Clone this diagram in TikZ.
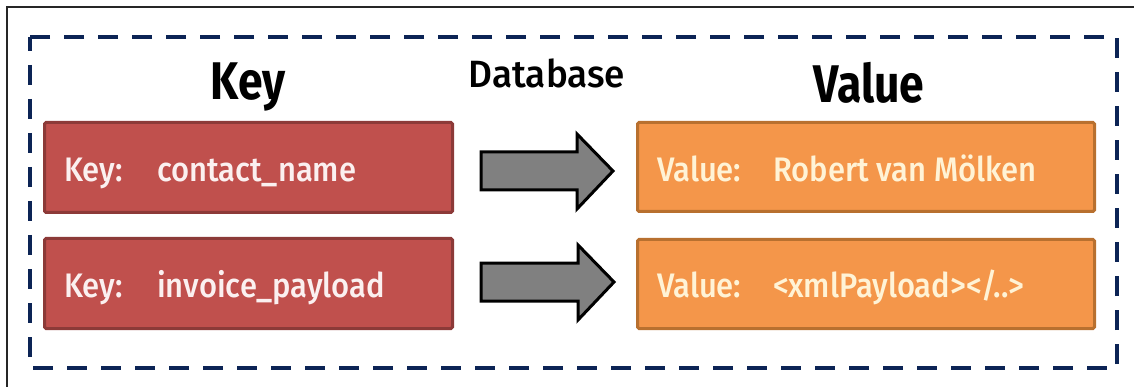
\documentclass[tikz,border=0pt]{standalone}
\usepackage{fontspec}
\setmainfont{Fira Sans}
\newfontfamily\condfont[FakeStretch=0.91, UprightFont=* Medium]{Fira Sans}
\newfontfamily\dbfont[FakeStretch=0.97, UprightFont=* Medium]{Fira Sans}
\newfontfamily\condbold[FakeStretch=0.84]{Fira Sans Bold}
\definecolor{navy}{HTML}{0C2455}
\definecolor{keyfill}{HTML}{C0504D}
\definecolor{keyedge}{HTML}{8C3A38}
\definecolor{valfill}{HTML}{F4964A}
\definecolor{valedge}{HTML}{B8702F}
\definecolor{keytext}{HTML}{FBF0F0}
\definecolor{valtext}{HTML}{FFF3D6}
\definecolor{arrowgray}{HTML}{808080}
\tikzset{
  keybox/.style={draw=keyedge, fill=keyfill, line width=3pt, rounded corners=1.5pt},
  valbox/.style={draw=valedge, fill=valfill, line width=3pt, rounded corners=1.5pt},
  boxtext/.style={anchor=base west, inner sep=0pt, font=\condfont\fontsize{34}{40}\selectfont},
  heading/.style={anchor=base, inner sep=0pt, font=\condbold\fontsize{53}{60}\selectfont},
  blockarrow/.style={draw=black, fill=arrowgray, line width=3pt, line join=miter},
}
\begin{document}
\begin{tikzpicture}[x=1pt,y=-1pt]
\useasboundingbox (0,0) rectangle (1134,387);
% outer frame (partially visible)
\draw[line width=1.5pt, black!85] (7,387) -- (7,7) -- (1134,7);
% dashed database boundary
\draw[navy, line width=4pt, dash pattern=on 20pt off 14pt, dash phase=6pt] (30,37) rectangle (1117,368);
% headings
\node[heading] (hkey) at (248,100) {Key};
\node[heading] (hval) at (869,103) {Value};
\node[anchor=base, inner sep=0pt, font=\dbfont\fontsize{38}{44}\selectfont] (hdb) at (547,88) {Database};
% key boxes
\node[keybox, minimum width=408pt, minimum height=90pt, anchor=north west] (k1) at (43,121) {};
\node[keybox, minimum width=408pt, minimum height=90pt, anchor=north west] (k2) at (43,237) {};
% value boxes
\node[valbox, minimum width=457pt, minimum height=89pt, anchor=north west] (v1) at (636,121) {};
\node[valbox, minimum width=457pt, minimum height=89pt, anchor=north west] (v2) at (636,238) {};
% texts
\node[boxtext, text=keytext] (k1a) at (64,182) {Key:};
\node[boxtext, text=keytext] (k1b) at (157,182) {contact\_name};
\node[boxtext, text=keytext] (k2a) at (64,297) {Key:};
\node[boxtext, text=keytext] (k2b) at (157,297) {invoice\_payload};
\node[boxtext, text=valtext] (v1a) at (657,182) {Value:};
\node[boxtext, text=valtext] (v1b) at (773,182) {Robert van Mölken};
\node[boxtext, text=valtext] (v2a) at (657,297) {Value:};
\node[boxtext, text=valtext] (v2b) at (773,297) {<xmlPayload></..>};
% block arrows
\draw[blockarrow] (481,152) -- (577,152) -- (577,134) -- (613,171) -- (577,209) -- (577,190) -- (481,190) -- cycle;
\draw[blockarrow] (481,263) -- (578,263) -- (578,245) -- (614,282) -- (578,320) -- (578,301) -- (481,301) -- cycle;
\end{tikzpicture}
\end{document}
